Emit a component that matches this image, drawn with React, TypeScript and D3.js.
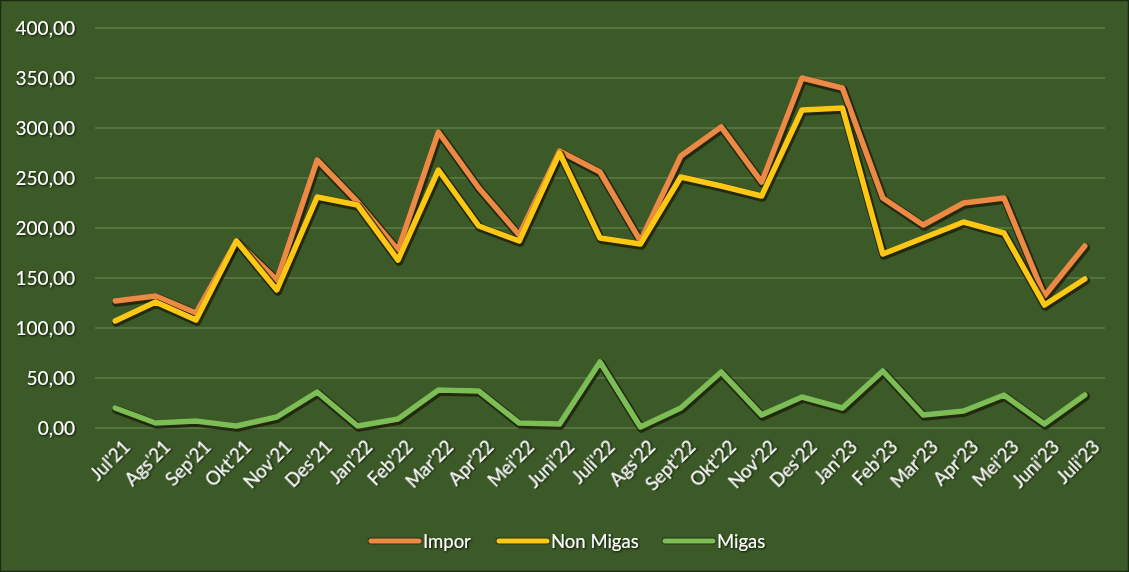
import React from "react";
import * as d3 from "d3";

const categories = ["Jul'21","Ags'21","Sep'21","Okt'21","Nov'21","Des'21","Jan'22","Feb'22","Mar'22","Apr'22","Mei'22","Juni'22","Juli'22","Ags'22","Sept'22","Okt'22","Nov'22","Des'22","Jan'23","Feb'23","Mar'23","Apr'23","Mei'23","Juni'23","Juli'23"];
const impor = [127,132,115,187,148,268,226,178,296,240,193,277,256,187,272,301,246,350,340,230,203,225,230,132,182];
const nonMigas = [107,126,108,187,138,231,223,168,258,202,187,275,190,184,251,242,232,318,320,174,190,206,195,123,149];
const migas = [20,5,7,2,11,36,2,9,38,37,5,4,66,1,20,56,13,31,20,57,13,17,33,4,33];
const yTicks = [0,50,100,150,200,250,300,350,400];

const seriesList = [
  { name: "Impor", values: impor, color: "#ec8a45" },
  { name: "Non Migas", values: nonMigas, color: "#fcc814" },
  { name: "Migas", values: migas, color: "#7cbd55" },
];

const W = 1129, H = 572;
const FONT = "Lato, 'Open Sans', sans-serif";

export default function App() {
  const x = d3.scalePoint<string>().domain(categories).range([95, 1105]).padding(0.5);
  const y = d3.scaleLinear().domain([0, 400]).range([428, 28]);
  const line = (vals: number[]) =>
    d3.line<number>().x((_, i) => x(categories[i]) as number).y((d) => y(d))(vals) || "";
  const fmt = (v: number) => v.toFixed(2).replace(".", ",");
  const legendPos = [369, 497, 663];

  return (
    <svg width={W} height={H} style={{ position: "absolute", left: 0, top: 0 }} fontFamily={FONT}>
      <defs>
        <filter id="ts" x="-20%" y="-20%" width="140%" height="140%">
          <feDropShadow dx="1" dy="1" stdDeviation="0.8" floodColor="#000" floodOpacity="0.9" />
        </filter>
      </defs>
      <rect x={0.5} y={0.5} width={W - 1} height={H - 1} fill="#3c5a27" stroke="#1d2a12" strokeWidth={1.5} />
      {yTicks.map((t) => (
        <g key={t}>
          <line x1={95} x2={1105} y1={y(t)} y2={y(t)} stroke="#6e8c55" strokeWidth={1.2} />
          <text x={75} y={y(t)} dy="0.36em" textAnchor="end" fontSize={19} fill="#fff" filter="url(#ts)">
            {fmt(t)}
          </text>
        </g>
      ))}
      {categories.map((c) => (
        <text
          key={c}
          transform={`translate(${(x(c) as number) + 7},${439}) rotate(-45)`}
          textAnchor="end"
          dy="0.7em"
          fontSize={18.5}
          fill="#fff"
          filter="url(#ts)"
        >
          {c}
        </text>
      ))}
      {seriesList.map((s) => (
        <g key={s.name}>
          <path d={line(s.values)} fill="none" stroke="#1a1a08" strokeOpacity={0.75} strokeWidth={8.5} strokeLinejoin="round" strokeLinecap="round" transform="translate(1,1.5)" />
          <path d={line(s.values)} fill="none" stroke={s.color} strokeWidth={5.5} strokeLinejoin="round" strokeLinecap="round" />
        </g>
      ))}
      {seriesList.map((s, i) => (
        <g key={s.name} transform={`translate(${legendPos[i]},541)`}>
          <line x1={2} x2={50} y1={0} y2={0} stroke="#1a1a08" strokeOpacity={0.6} strokeWidth={7} strokeLinecap="round" />
          <line x1={2} x2={50} y1={0} y2={0} stroke={s.color} strokeWidth={5} strokeLinecap="round" />
          <text x={54} y={0} dy="0.36em" fontSize={18.5} fill="#fff" filter="url(#ts)">
            {s.name}
          </text>
        </g>
      ))}
    </svg>
  );
}
